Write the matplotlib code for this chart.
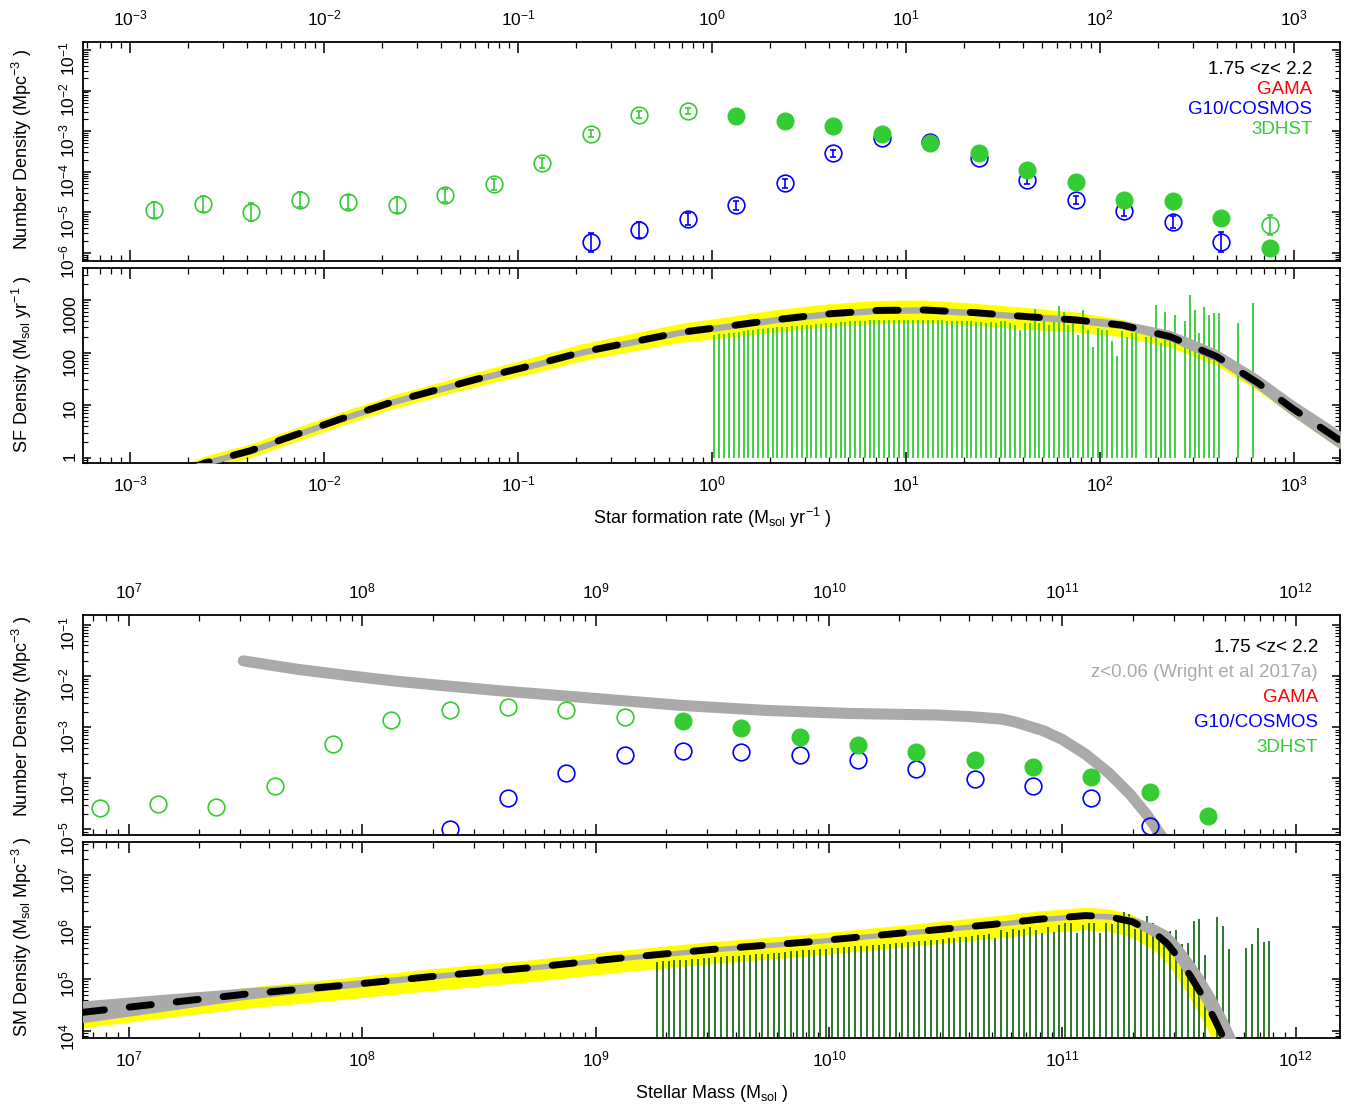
import numpy as np
import matplotlib
matplotlib.use('Agg')
import matplotlib.pyplot as plt
from matplotlib.ticker import LogLocator, NullFormatter, FixedLocator, FixedFormatter

plt.rcParams['font.family'] = ['Liberation Sans', 'DejaVu Sans']
plt.rcParams['mathtext.fontset'] = 'custom'
plt.rcParams['mathtext.rm'] = 'Liberation Sans'
plt.rcParams['mathtext.it'] = 'Liberation Sans:italic'
plt.rcParams['mathtext.bf'] = 'Liberation Sans:bold'

# ---------------- SFR panels (log10 values) ----------------
sfr_open_x = [-2.875, -2.625, -2.375, -2.125, -1.875, -1.625, -1.375, -1.125, -0.875, -0.625, -0.375, -0.125, 2.875]
sfr_open_y = [-4.94, -4.80, -4.99, -4.69, -4.75, -4.83, -4.58, -4.31, -3.78, -3.06, -2.59, -2.51, -5.32]
sfr_open_err = [0.20, 0.20, 0.22, 0.18, 0.18, 0.20, 0.16, 0.14, 0.12, 0.09, 0.08, 0.07, 0.25]

sfr_fill_x = [0.125, 0.375, 0.625, 0.875, 1.125, 1.375, 1.625, 1.875, 2.125, 2.375, 2.625, 2.875]
sfr_fill_y = [-2.63, -2.75, -2.88, -3.06, -3.30, -3.55, -3.96, -4.25, -4.70, -4.73, -5.13, -5.88]
sfr_fill_err = [0.03, 0.03, 0.03, 0.03, 0.03, 0.03, 0.04, 0.05, 0.05, 0.06, 0.15, 0.05]

sfr_blue_x = [-0.625, -0.375, -0.125, 0.125, 0.375, 0.625, 0.875, 1.125, 1.375, 1.625, 1.875, 2.125, 2.375, 2.625]
sfr_blue_y = [-5.74, -5.44, -5.16, -4.83, -4.29, -3.55, -3.16, -3.26, -3.66, -4.21, -4.70, -4.98, -5.25, -5.73]
sfr_blue_err = [0.23, 0.20, 0.15, 0.12, 0.10, 0.09, 0.06, 0.05, 0.05, 0.10, 0.10, 0.10, 0.15, 0.25]

sfr_curve_x = [-2.70, -2.614, -2.382, -2.151, -1.919, -1.648, -1.379, -1.144, -0.912, -0.667, -0.17, 0.06, 0.32,
               0.58, 0.85, 1.09, 1.35, 1.635, 1.875, 2.115, 2.363, 2.603, 2.818, 2.99, 3.196, 3.30]
sfr_curve_y = [-0.22, -0.10, 0.13, 0.43, 0.73, 1.06, 1.33, 1.56, 1.77, 2.01, 2.38, 2.49, 2.62,
               2.73, 2.80, 2.81, 2.76, 2.68, 2.62, 2.52, 2.30, 1.92, 1.41, 0.94, 0.43, 0.17]
sfr_gray_lo = [0.06, 0.06, 0.06, 0.06, 0.06, 0.06, 0.06, 0.06, 0.06, 0.06, 0.06, 0.06, 0.06,
               0.06, 0.06, 0.06, 0.06, 0.06, 0.06, 0.07, 0.08, 0.10, 0.12, 0.14, 0.16, 0.16]
sfr_gray_hi = [0.06, 0.06, 0.06, 0.06, 0.06, 0.06, 0.06, 0.06, 0.06, 0.06, 0.06, 0.06, 0.06,
               0.06, 0.06, 0.06, 0.06, 0.06, 0.07, 0.09, 0.12, 0.14, 0.16, 0.17, 0.18, 0.18]
sfr_yel_lo = [0.13, 0.13, 0.13, 0.13, 0.13, 0.13, 0.13, 0.14, 0.15, 0.16, 0.19, 0.21, 0.23,
              0.24, 0.24, 0.24, 0.24, 0.24, 0.23, 0.22, 0.20, 0.17, 0.15, 0.14, 0.16, 0.16]
sfr_yel_hi = [0.13, 0.13, 0.13, 0.13, 0.13, 0.13, 0.13, 0.14, 0.15, 0.16, 0.17, 0.18, 0.19,
              0.19, 0.19, 0.19, 0.18, 0.17, 0.15, 0.11, 0.05, 0.00, 0.00, 0.00, 0.00, 0.00]

sfr_bar_x = [0.0125, 0.0375, 0.0625, 0.0875, 0.1125, 0.1375, 0.1625, 0.1875, 0.2125, 0.2375,
             0.2625, 0.2875, 0.3125, 0.3375, 0.3625, 0.3875, 0.4125, 0.4375, 0.4625, 0.4875,
             0.5125, 0.5375, 0.5625, 0.5875, 0.6125, 0.6375, 0.6625, 0.6875, 0.7125, 0.7375,
             0.7625, 0.7875, 0.8125, 0.8375, 0.8625, 0.8875, 0.9125, 0.9375, 0.9625, 0.9875,
             1.0125, 1.0375, 1.0625, 1.0875, 1.1125, 1.1375, 1.1625, 1.1875, 1.2125, 1.2375,
             1.2625, 1.2875, 1.3125, 1.3375, 1.3625, 1.3875, 1.4125, 1.4375, 1.4625, 1.4875,
             1.5125, 1.5375, 1.5625, 1.5875, 1.6125, 1.6375, 1.6625, 1.6875, 1.7125, 1.7375,
             1.7625, 1.7875, 1.8125, 1.8375, 1.8625, 1.8875, 1.9125, 1.9375, 1.9625, 1.9875,
             2.0125, 2.0375, 2.0625, 2.0875, 2.1125, 2.1375, 2.1625, 2.1875, 2.2375,
             2.2625, 2.2875, 2.3125, 2.3375, 2.3625, 2.3875, 2.4375, 2.4625, 2.4875,
             2.5125, 2.5375, 2.5625, 2.5875, 2.6125, 2.7125, 2.7875]
sfr_bar_top = [2.33, 2.35, 2.36, 2.37, 2.38, 2.39, 2.41, 2.42, 2.43, 2.44,
               2.45, 2.46, 2.47, 2.48, 2.48, 2.49, 2.50, 2.51, 2.52, 2.52,
               2.53, 2.54, 2.55, 2.56, 2.56, 2.57, 2.58, 2.58, 2.59, 2.59,
               2.60, 2.60, 2.61, 2.61, 2.61, 2.62, 2.62, 2.62, 2.62, 2.62,
               2.62, 2.62, 2.62, 2.62, 2.62, 2.61, 2.61, 2.61, 2.60, 2.60,
               2.60, 2.59, 2.59, 2.59, 2.58, 2.58, 2.56, 2.58, 2.57, 2.59,
               2.59, 2.56, 2.52, 2.43, 2.56, 2.56, 2.82, 2.56, 2.59, 2.52,
               2.59, 2.89, 2.78, 2.52, 2.56, 2.33, 2.80, 2.43, 2.11, 2.46,
               2.43, 2.43, 2.21, 1.93, 2.40, 2.30, 2.37, 2.37, 2.30,
               2.33, 2.90, 2.18, 2.78, 2.30, 2.71, 2.59, 3.10, 2.81,
               2.37, 2.86, 2.71, 2.75, 2.76, 2.56, 2.94]

# ---------------- Stellar mass panels (log10 values) ----------------
sm_open_x = [6.875, 7.125, 7.375, 7.625, 7.875, 8.125, 8.375, 8.625, 8.875, 9.125]
sm_open_y = [-4.59, -4.51, -4.56, -4.15, -3.33, -2.86, -2.66, -2.61, -2.67, -2.79]

sm_fill_x = [9.375, 9.625, 9.875, 10.125, 10.375, 10.625, 10.875, 11.125, 11.375, 11.625]
sm_fill_y = [-2.88, -3.01, -3.19, -3.35, -3.48, -3.64, -3.77, -3.97, -4.27, -4.74]

sm_blue_x = [8.375, 8.625, 8.875, 9.125, 9.375, 9.625, 9.875, 10.125, 10.375, 10.625, 10.875, 11.125, 11.375]
sm_blue_y = [-5.00, -4.38, -3.89, -3.54, -3.47, -3.48, -3.54, -3.64, -3.82, -4.02, -4.15, -4.39, -4.94]

wright_x = [7.49, 7.73, 7.98, 8.15, 8.36, 8.60, 8.93, 9.36, 9.73, 10.09, 10.46, 10.60, 10.74, 10.80, 10.92,
            11.00, 11.10, 11.20, 11.29, 11.36, 11.42, 11.48]
wright_y = [-1.70, -1.87, -2.01, -2.10, -2.19, -2.29, -2.41, -2.57, -2.67, -2.73, -2.76, -2.79, -2.84, -2.90, -3.07,
            -3.24, -3.53, -3.90, -4.31, -4.70, -5.10, -5.50]

sm_curve_x = [6.80, 7.10, 7.50, 7.90, 8.30, 8.70, 9.10, 9.50, 9.90, 10.30, 10.70, 10.90, 11.10, 11.20,
              11.30, 11.40, 11.45, 11.50, 11.55, 11.60, 11.65, 11.70, 11.75]
sm_curve_y = [4.36, 4.51, 4.71, 4.87, 5.05, 5.21, 5.40, 5.57, 5.71, 5.88, 6.05, 6.15, 6.22, 6.20,
              6.10, 5.87, 5.68, 5.40, 5.05, 4.68, 4.25, 3.78, 3.30]
sm_gray_lo = [0.20, 0.16, 0.10, 0.06, 0.05, 0.05, 0.05, 0.05, 0.05, 0.05, 0.05, 0.05, 0.05, 0.05,
              0.06, 0.08, 0.10, 0.12, 0.12, 0.12, 0.12, 0.12, 0.12]
sm_gray_hi = [0.22, 0.18, 0.12, 0.08, 0.06, 0.05, 0.05, 0.05, 0.05, 0.05, 0.05, 0.05, 0.05, 0.06,
              0.10, 0.18, 0.25, 0.30, 0.35, 0.40, 0.45, 0.50, 0.50]
sm_yel_lo = [0.30, 0.28, 0.27, 0.27, 0.27, 0.27, 0.27, 0.27, 0.27, 0.27, 0.27, 0.27, 0.27, 0.28,
             0.30, 0.34, 0.38, 0.42, 0.44, 0.46, 0.48, 0.50, 0.52]
sm_yel_hi = [0.12, 0.12, 0.13, 0.14, 0.15, 0.15, 0.15, 0.15, 0.15, 0.15, 0.16, 0.16, 0.16, 0.15,
             0.14, 0.11, 0.09, 0.07, 0.06, 0.05, 0.05, 0.05, 0.05]

sm_bar_x = [9.2625, 9.2875, 9.3125, 9.3375, 9.3625, 9.3875, 9.4125, 9.4375, 9.4625, 9.4875,
            9.5125, 9.5375, 9.5625, 9.5875, 9.6125, 9.6375, 9.6625, 9.6875, 9.7125, 9.7375,
            9.7625, 9.7875, 9.8125, 9.8375, 9.8625, 9.8875, 9.9125, 9.9375, 9.9625, 9.9875,
            10.0125, 10.0375, 10.0625, 10.0875, 10.1125, 10.1375, 10.1625, 10.1875, 10.2125, 10.2375,
            10.2625, 10.2875, 10.3125, 10.3375, 10.3625, 10.3875, 10.4125, 10.4375, 10.4625, 10.4875,
            10.5125, 10.5375, 10.5625, 10.5875, 10.6125, 10.6375, 10.6625, 10.6875, 10.7125, 10.7375,
            10.7625, 10.7875, 10.8125, 10.8375, 10.8625, 10.8875, 10.9125, 10.9375, 10.9625, 10.9875,
            11.0125, 11.0375, 11.0625, 11.0875, 11.1125, 11.1375, 11.1625, 11.1875, 11.2125, 11.2375,
            11.2625, 11.2875, 11.3125, 11.3375, 11.3625, 11.3875, 11.4125, 11.4375, 11.4625, 11.4875,
            11.5125, 11.5375, 11.5625, 11.5875, 11.6125, 11.6625, 11.6875, 11.7125,
            11.7875, 11.8125, 11.8375, 11.8625, 11.8875]
sm_bar_top = [5.33, 5.34, 5.35, 5.36, 5.36, 5.37, 5.38, 5.39, 5.40, 5.41,
              5.42, 5.43, 5.44, 5.44, 5.45, 5.46, 5.47, 5.48, 5.48, 5.49,
              5.50, 5.51, 5.52, 5.53, 5.54, 5.55, 5.55, 5.56, 5.57, 5.58,
              5.59, 5.60, 5.61, 5.62, 5.63, 5.64, 5.64, 5.65, 5.66, 5.67,
              5.68, 5.69, 5.70, 5.71, 5.72, 5.73, 5.74, 5.75, 5.76, 5.77,
              5.78, 5.79, 5.80, 5.81, 5.82, 5.84, 5.85, 5.86, 5.78, 5.94,
              5.91, 5.97, 5.94, 5.97, 6.01, 5.94, 5.88, 6.01, 5.91, 6.04,
              6.07, 6.07, 5.88, 6.04, 6.07, 6.07, 5.88, 6.07, 6.06, 6.10,
              6.29, 6.26, 5.97, 6.07, 6.21, 6.08, 5.97, 5.89, 5.92, 5.94,
              5.67, 5.70, 6.12, 6.15, 5.46, 6.19, 6.02, 5.57,
              5.59, 5.67, 5.99, 5.72, 5.74]

sfr_ticks = [-3, -2, -1, 0, 1, 2, 3]
sm_ticks = [7, 8, 9, 10, 11, 12]

GREEN = '#33CC33'
DKGREEN = '#1E6B1E'
BLUE = '#0000FF'
RED = '#FF0000'
GRAY = '#AAAAAA'
YELLOW = '#FFFF00'


def sci_labels(exps):
    return ['$\\mathdefault{10^{%d}}$' % e for e in exps]


def style_axis(ax, xlim, ylim, labels_top, xexp, yexp):
    ax.set_xscale('log')
    ax.set_yscale('log')
    ax.set_xlim(xlim)
    ax.set_ylim(ylim)
    for a in (ax.xaxis, ax.yaxis):
        a.set_minor_locator(LogLocator(base=10, subs=np.arange(2, 10), numticks=200))
        a.set_minor_formatter(NullFormatter())
    ax.xaxis.set_major_locator(FixedLocator([10.0**e for e in xexp]))
    ax.xaxis.set_major_formatter(FixedFormatter(sci_labels(xexp)))
    if yexp is not None:
        ax.yaxis.set_major_locator(FixedLocator([10.0**e for e in yexp]))
        ax.yaxis.set_major_formatter(FixedFormatter(sci_labels(yexp)))
    ax.tick_params(which='both', direction='in', top=True, right=True, labelsize=12.5)
    ax.tick_params(axis='x', which='major', length=8, width=1.1, pad=10 if labels_top else 8)
    ax.tick_params(axis='x', which='minor', length=4.5, width=0.9)
    ax.tick_params(axis='y', which='major', length=6, width=1.1, pad=4, labelrotation=90)
    ax.tick_params(axis='y', which='minor', length=3.5, width=0.8)
    ax.tick_params(axis='x', labeltop=labels_top, labelbottom=not labels_top)
    for s in ax.spines.values():
        s.set_linewidth(1.3)


def log_err(y, e):
    y = np.array(y)
    e = np.array(e)
    return [10**y - 10**(y - e), 10**(y + e) - 10**y]


def p10(v):
    return 10**np.array(v)


fig = plt.figure(figsize=(13.51, 11.09), dpi=100)
L, W = 83 / 1351, 1257 / 1351
ax1 = fig.add_axes([L, 0.7647, W, 0.1975])
ax2 = fig.add_axes([L, 0.5821, W, 0.1766])
ax3 = fig.add_axes([L, 0.2471, W, 0.1984])
ax4 = fig.add_axes([L, 0.0637, W, 0.1773])

sfr_lim = (10**-3.242, 10**3.237)
sm_lim = (10**6.803, 10**12.19)

# Panel 1: SFR number density
ax1.errorbar(p10(sfr_open_x), p10(sfr_open_y), yerr=log_err(sfr_open_y, sfr_open_err), fmt='o',
             ms=12, mfc='none', mec=GREEN, mew=1.2, ecolor=GREEN, elinewidth=1.2, capsize=2)
ax1.errorbar(p10(sfr_blue_x), p10(sfr_blue_y), yerr=log_err(sfr_blue_y, sfr_blue_err), fmt='o',
             ms=12, mfc='none', mec=BLUE, mew=1.2, ecolor=BLUE, elinewidth=1.2, capsize=2)
ax1.errorbar(p10(sfr_fill_x), p10(sfr_fill_y), yerr=log_err(sfr_fill_y, sfr_fill_err), fmt='o',
             ms=12, mfc=GREEN, mec=GREEN, ecolor=GREEN, elinewidth=1.2, capsize=2)
style_axis(ax1, sfr_lim, (10**-6.2, 10**-0.8), True, sfr_ticks, [-6, -5, -4, -3, -2, -1])
legend1 = [('1.75 <z< 2.2', 'black'), ('GAMA', RED), ('G10/COSMOS', BLUE), ('3DHST', GREEN)]
for i, (txt, col) in enumerate(legend1):
    ax1.text(0.978, 0.875 - 0.092 * i, txt, color=col, fontsize=13.5,
             ha='right', va='center', transform=ax1.transAxes)

# Panel 2: SF density
cx = p10(sfr_curve_x)
cy = np.array(sfr_curve_y)
ax2.fill_between(cx, 10**(cy - np.array(sfr_yel_lo)), 10**(cy + np.array(sfr_yel_hi)),
                 color=YELLOW, lw=0, zorder=1)
ax2.vlines(p10(sfr_bar_x), 1, p10(sfr_bar_top), color=GREEN, lw=1.3, zorder=2)
ax2.fill_between(cx, 10**(cy - np.array(sfr_gray_lo)), 10**(cy + np.array(sfr_gray_hi)),
                 color=GRAY, lw=0, zorder=3)
ax2.plot(cx, 10**cy, color='black', lw=5, ls=(0, (3.2, 3.6)), dash_capstyle='round', zorder=4)
style_axis(ax2, sfr_lim, (10**-0.11, 10**3.615), False, sfr_ticks, None)
ax2.yaxis.set_major_locator(FixedLocator([1, 10, 100, 1000]))
ax2.yaxis.set_major_formatter(FixedFormatter(['1', '10', '100', '1000']))

# Panel 3: SM number density
ax3.plot(p10(wright_x), p10(wright_y), color=GRAY, lw=8, solid_capstyle='round', zorder=1)
ax3.plot(p10(sm_open_x), p10(sm_open_y), 'o', ms=12, mfc='none', mec=GREEN, mew=1.2, zorder=2)
ax3.plot(p10(sm_blue_x), p10(sm_blue_y), 'o', ms=12, mfc='none', mec=BLUE, mew=1.2, zorder=2)
ax3.plot(p10(sm_fill_x), p10(sm_fill_y), 'o', ms=12, mfc=GREEN, mec=GREEN, zorder=3)
style_axis(ax3, sm_lim, (10**-5.11, 10**-0.8), True, sm_ticks, [-5, -4, -3, -2, -1])
legend3 = [('1.75 <z< 2.2', 'black'), ('z<0.06 (Wright et al 2017a)', GRAY), ('GAMA', RED),
           ('G10/COSMOS', BLUE), ('3DHST', GREEN)]
for i, (txt, col) in enumerate(legend3):
    ax3.text(0.9825, 0.85 - 0.1136 * i, txt, color=col, fontsize=13.5,
             ha='right', va='center', transform=ax3.transAxes)

# Panel 4: SM density
mx = p10(sm_curve_x)
my = np.array(sm_curve_y)
ax4.fill_between(mx, 10**(my - np.array(sm_yel_lo)), 10**(my + np.array(sm_yel_hi)),
                 color=YELLOW, lw=0, zorder=1)
ax4.vlines(p10(sm_bar_x), 1e3, p10(sm_bar_top), color=DKGREEN, lw=1.3, zorder=2)
ax4.fill_between(mx, 10**(my - np.array(sm_gray_lo)), 10**(my + np.array(sm_gray_hi)),
                 color=GRAY, lw=0, zorder=3)
ax4.plot(mx, 10**my, color='black', lw=5, ls=(0, (3.2, 3.6)), dash_capstyle='round', zorder=4)
style_axis(ax4, sm_lim, (10**3.86, 10**7.64), False, sm_ticks, [4, 5, 6, 7])

# axis titles
fig.text(22 / 1351, 1 - 150 / 1109, 'Number Density (Mpc$^{-3}$ )', rotation=90,
         ha='center', va='center', fontsize=13)
fig.text(22 / 1351, 1 - 364 / 1109, 'SF Density (M$_{\\rm sol}$ yr$^{-1}$ )', rotation=90,
         ha='center', va='center', fontsize=13)
fig.text(22 / 1351, 1 - 717 / 1109, 'Number Density (Mpc$^{-3}$ )', rotation=90,
         ha='center', va='center', fontsize=13)
fig.text(22 / 1351, 1 - 937 / 1109, 'SM Density (M$_{\\rm sol}$ Mpc$^{-3}$ )', rotation=90,
         ha='center', va='center', fontsize=13)
fig.text(712 / 1351, 1 - 518 / 1109, 'Star formation rate (M$_{\\rm sol}$ yr$^{-1}$ )',
         ha='center', va='center', fontsize=13)
fig.text(712 / 1351, 1 - 1093 / 1109, 'Stellar Mass (M$_{\\rm sol}$ )',
         ha='center', va='center', fontsize=13)

fig.savefig('out.png', dpi=100)
